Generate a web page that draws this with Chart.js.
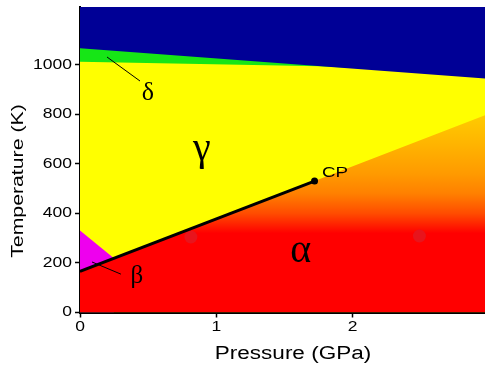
<!DOCTYPE html>
<html><head><meta charset="utf-8">
<script src="https://cdn.jsdelivr.net/npm/chart.js@4/dist/chart.umd.min.js"></script>
<style>
html,body{margin:0;padding:0;background:#fff;overflow:hidden;width:485px;height:365px;}
</style></head><body>
<canvas id="c" width="485" height="365"></canvas>
<script>
// Axis ticks
const xTicks = [0, 1, 2];
const yTicks = [0, 200, 400, 600, 800, 1000];
// Phase boundaries: [pressure GPa, temperature K]
const liquidLine   = [[0, 1067], [2.97, 945]];
const deltaLower   = [[0, 1013], [1.76, 995], [2.97, 960]];
const betaUpper    = [[0, 331], [0.249, 219]];
const alphaUpper   = [[0, 166], [1.72, 531], [2.97, 797]];
const transition   = [[0, 166], [1.72, 531]];
const criticalPt   = [[1.72, 531]];
const markerPts    = [[0.813, 305], [2.489, 309]];
const deltaPointer = [[0.198, 1032], [0.44, 935]];
const betaPointer  = [[0.088, 204], [0.30, 155]];
// Text annotations (phase names)
const labelText = ['γ', 'α', 'δ', 'β', 'CP'];
const labelP    = [0.893, 1.618, 0.498, 0.417, 1.774];
const labelT    = [618, 204, 859, 121, 564];
const xTitle = 'Pressure (GPa)', yTitle = 'Temperature (K)';

const pts = a => a.map(([x, y]) => ({x, y}));
const Y_MAX = 1234, X_MAX = 2.97;

function alphaGradient(ctx) {
  const chart = ctx.chart;
  const ys = chart.scales.y;
  if (!chart.chartArea || !ys) return '#ff0000';
  const y0 = ys.getPixelForValue(0), y1 = ys.getPixelForValue(850);
  const g = chart.ctx.createLinearGradient(0, y0, 0, y1);
  const stops = [[0,'#ff0000'],[320,'#ff0000'],[400,'#ff4c00'],[480,'#ff8000'],[560,'#ff9a00'],[680,'#ffb400'],[780,'#ffc800'],[850,'#ffd200']];
  stops.forEach(([t, c]) => g.addColorStop(t / 850, c));
  return g;
}

const base = {type:'line', pointRadius:0, borderWidth:0, tension:0};
const datasets = [
  {...base, data: pts([[0, Y_MAX], [X_MAX, Y_MAX]]), fill:'origin', backgroundColor:'#ffff00', order:10},
  {...base, data: pts(deltaLower), fill:'end', backgroundColor:'#16e616', order:9},
  {...base, data: pts(liquidLine), fill:'end', backgroundColor:'#000096', order:8},
  {...base, data: pts(betaUpper), fill:'origin', backgroundColor:'#ee00ee', order:7},
  {...base, data: pts(alphaUpper), fill:'origin', backgroundColor: alphaGradient, order:6},
  {type:'scatter', data: pts(markerPts), pointRadius:6.5, backgroundColor:'#e8141c', borderColor:'#e8141c', pointBackgroundColor:'#e8141c', pointBorderWidth:0, order:5},
  {...base, data: pts(deltaPointer), borderWidth:1, borderColor:'#000', fill:false, order:4},
  {...base, data: pts(betaPointer), borderWidth:1, borderColor:'#000', fill:false, order:4},
  {...base, data: pts(transition), borderWidth:3, borderColor:'#000', fill:false, order:2},
  {type:'scatter', data: pts(criticalPt), pointRadius:3.5, backgroundColor:'#000', pointBackgroundColor:'#000', pointBorderWidth:0, order:1}
];

const SANS = '"Liberation Sans", Arial, sans-serif';
const SERIF = '"Liberation Serif", "Times New Roman", serif';
const WIDE = 1.25; // the reference's sans text is drawn horizontally extended

function drawText(ctx, txt, px, py, font, align, baseline, rot, stretch) {
  ctx.save();
  ctx.translate(px, py);
  if (rot) ctx.rotate(rot);
  ctx.scale(stretch, 1);
  ctx.font = font;
  ctx.textAlign = align;
  ctx.textBaseline = baseline;
  ctx.fillStyle = '#000';
  ctx.fillText(txt, 0, 0);
  ctx.restore();
}

const labelFonts = ['40px ' + SERIF, '40px ' + SERIF, '26px ' + SERIF, '25px ' + SERIF, '15px ' + SANS];
const textPlugin = {
  id: 'texts',
  afterDraw(chart) {
    const {ctx, chartArea: ca, scales: {x, y}} = chart;
    labelText.forEach((t, i) => {
      const px = x.getPixelForValue(labelP[i]), py = y.getPixelForValue(labelT[i]);
      if (t === 'CP') drawText(ctx, t, px, py, labelFonts[i], 'left', 'middle', 0, WIDE);
      else drawText(ctx, t, px, py, labelFonts[i], 'center', 'alphabetic', 0, 1);
    });
    yTicks.forEach(v => drawText(ctx, String(v), ca.left - 8, y.getPixelForValue(v), '14px ' + SANS, 'right', 'middle', 0, WIDE));
    xTicks.forEach(v => drawText(ctx, String(v), x.getPixelForValue(v), ca.bottom + 15, '14px ' + SANS, 'center', 'middle', 0, WIDE));
    drawText(ctx, xTitle, x.getPixelForValue(1.562), ca.bottom + 41.5, '18px ' + SANS, 'center', 'middle', 0, WIDE);
    drawText(ctx, yTitle, ca.left - 62, y.getPixelForValue(531), '17px ' + SANS, 'center', 'middle', -Math.PI / 2, WIDE);
  }
};

new Chart(document.getElementById('c'), {
  data: {datasets},
  plugins: [textPlugin],
  options: {
    responsive:false, animation:false, devicePixelRatio:1,
    layout:{autoPadding:false, padding:{top:7, right:0, bottom:0, left:0}},
    plugins:{legend:{display:false}, tooltip:{enabled:false}},
    scales:{
      x:{type:'linear', min:0, max:X_MAX,
        afterBuildTicks: s => { s.ticks = xTicks.map(v => ({value:v})); },
        afterFit: s => { s.height = 52.5; },
        grid:{drawOnChartArea:false, drawTicks:true, tickLength:5, color:'#000', tickWidth:1.5},
        border:{display:true, color:'#000', width:2},
        ticks:{display:false},
        title:{display:false}
      },
      y:{type:'linear', min:0, max:Y_MAX,
        afterBuildTicks: s => { s.ticks = yTicks.map(v => ({value:v})); },
        afterFit: s => { s.width = 80; },
        grid:{drawOnChartArea:false, drawTicks:true, tickLength:5, color:'#000', tickWidth:1.5},
        border:{display:true, color:'#000', width:2},
        ticks:{display:false},
        title:{display:false}
      }
    }
  }
});
</script>
</body></html>
